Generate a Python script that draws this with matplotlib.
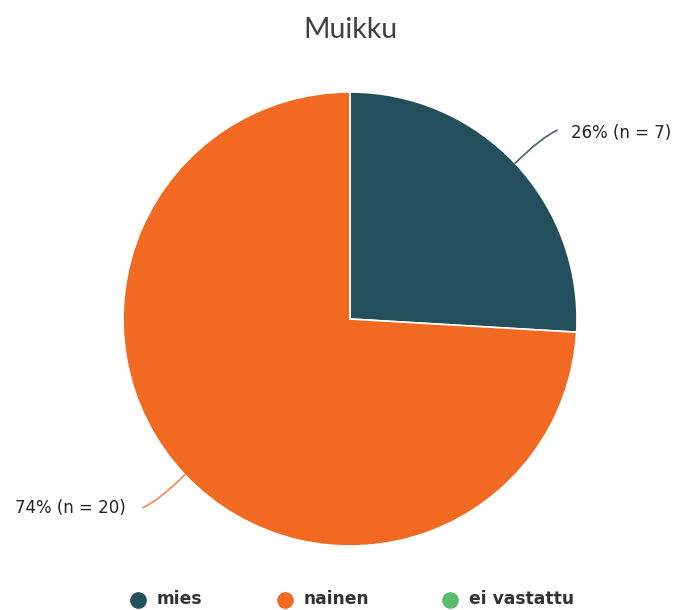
import matplotlib
matplotlib.use("Agg")
import matplotlib.pyplot as plt
import numpy as np
from matplotlib.lines import Line2D
from matplotlib.path import Path
from matplotlib.patches import PathPatch

title = "Muikku"
categories = ["mies", "nainen", "ei vastattu"]
counts = [7, 20, 0]
colors = ["#234E5B", "#F26A21", "#5CBB6A"]

W, H = 677, 610
fig = plt.figure(figsize=(W / 100, H / 100), dpi=100)
fig.patch.set_facecolor("white")

cx, cy, r = 350, 319, 227
ax = fig.add_axes([(cx - r) / W, (H - cy - r) / H, 2 * r / W, 2 * r / H])
ax.set_aspect("equal")
ax.axis("off")

total = sum(counts)
vals = [c for c in counts if c > 0]
cols = [colors[i] for i, c in enumerate(counts) if c > 0]
ax.pie(vals, colors=cols, startangle=90, counterclock=False, radius=1,
       wedgeprops=dict(edgecolor="white", linewidth=1.2), center=(0, 0))
ax.set_xlim(-1, 1)
ax.set_ylim(-1, 1)

line_cols = ["#4F6E79", "#F4915A"]
start = 90.0
for i, c in enumerate(counts):
    if c == 0:
        continue
    ang = c / total * 360
    mid = np.deg2rad(start - ang / 2)
    start -= ang
    x0, y0 = np.cos(mid), np.sin(mid)
    pct = round(c / total * 100)
    label = f"{pct}% (n = {c})"
    side = 1 if x0 > 0 else -1
    dx, dy = side * 0.185, np.sign(y0) * 0.145
    xe, ye = x0 + dx, y0 + dy
    xc, yc = x0 + 0.64 * dx, y0 + 0.8 * dy
    path = Path([(x0, y0), (xc, yc), (xe, ye)], [Path.MOVETO, Path.CURVE3, Path.CURVE3])
    ax.add_patch(PathPatch(path, fill=False, edgecolor=line_cols[i], lw=1.3,
                           capstyle="round", clip_on=False))
    xt = xe + side * (0.062 if side > 0 else 0.075)
    yt = ye - (0.014 if y0 > 0 else 0.003)
    ax.text(xt, yt, label, ha="left" if side > 0 else "right",
            va="center", fontsize=12, family=["DejaVu Sans"], color="#222222")

fig.text(0.517, 1 - 30 / H, title, ha="center", va="center", fontsize=20.5,
         family=["Lato", "DejaVu Sans"], color="#404040")

# legend drawn manually
leg_marker_x = [138, 285, 450]
leg_y = 600
for name, col, mx in zip(categories, colors, leg_marker_x):
    fig.add_artist(Line2D([mx / W], [1 - leg_y / H], marker="o", linestyle="none",
                          markersize=11, markerfacecolor=col, markeredgecolor=col,
                          transform=fig.transFigure))
    fig.text((mx + 19) / W, 1 - (leg_y - 1) / H, name, ha="left", va="center",
             fontsize=12.3, fontweight="bold", family=["DejaVu Sans"], color="#333333")

fig.savefig("out.png", dpi=100, facecolor="white")
